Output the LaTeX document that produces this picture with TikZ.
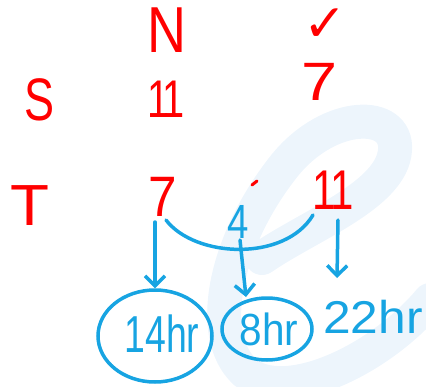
\documentclass[tikz,border=0pt]{standalone}
\usepackage{fontspec}
\usepackage{graphicx}
\setmainfont{Liberation Sans}
\newfontfamily\symfont{DejaVu Sans}
\usetikzlibrary{arrows.meta,shapes.geometric}
\definecolor{ink}{HTML}{FF0000}
\definecolor{pen}{HTML}{17A4E2}
\definecolor{wm}{HTML}{EDF5FC}
\newcommand{\handtxt}[3]{\scalebox{#1}[1]{\fontsize{#2}{#2}\selectfont #3}}
\tikzset{
  redtxt/.style={text=ink, inner sep=0pt},
  bluetxt/.style={text=pen, inner sep=0pt},
  bluearrow/.style={draw=pen, line width=3.5pt, line cap=round, -{Straight Barb[length=10pt,width=20pt,line width=3.5pt]}},
  bluering/.style={draw=pen, line width=3.5pt, ellipse, inner sep=0pt},
}
\begin{document}
\begin{tikzpicture}[x=1pt,y=-1pt]
\useasboundingbox (0,0) rectangle (426,386);
% faint watermark
\draw[wm, line width=34pt, line cap=round]
  (262,258) .. controls (310,225) and (392,195) .. (395,150)
  .. controls (398,110) and (330,110) .. (285,165)
  .. controls (225,240) and (205,335) .. (245,372)
  .. controls (285,405) and (380,360) .. (430,300);
% red table
\node[redtxt] (N) at (167,30) {\handtxt{0.83}{65}{N}};
\node[text=ink, font=\symfont, inner sep=0pt] (ck) at (325,25) {\handtxt{1}{52}{✓}};
\node[redtxt] (S) at (40,100) {\handtxt{0.75}{60}{S}};
\node[redtxt] (sn) at (166,99) {\handtxt{0.75}{53}{1\kern-0.16em1}};
\node[redtxt] (sc) at (320,82) {\handtxt{1.2}{54}{7}};
\node[redtxt] (T) at (30,206) {\handtxt{1.1}{58}{T}};
\node[redtxt] (tn) at (163,197) {\handtxt{0.9}{57}{7}};
\node[redtxt] (tc) at (333,190) {\handtxt{0.75}{56}{1\kern-0.14em1}};
\draw[ink, line width=3pt, line cap=round] (252,185) -- (257,181);
% blue
\node[bluetxt] (four) at (238,222) {\handtxt{0.8}{48}{4}};
\coordinate (a1) at (166,220);
\coordinate (a2) at (313,215);
\draw[pen, line width=3.5pt, line cap=round] (a1) .. controls (195,258) and (285,262) .. (a2);
\node[bluering, minimum width=114pt, minimum height=92pt] (e14) at (155,336) {};
\node[bluetxt] (h14) at (162,334) {\handtxt{0.72}{52}{14hr}};
\node[bluering, minimum width=90pt, minimum height=62pt] (e8) at (267,329) {};
\node[bluetxt] (h8) at (269,329) {\handtxt{0.9}{45}{8hr}};
\node[bluetxt] (h22) at (373,317) {\handtxt{1.08}{46}{22hr}};
\coordinate (s1) at (155,222);
\coordinate (s2) at (240,240);
\coordinate (t2) at (246,297);
\coordinate (s3) at (338,220);
\coordinate (t3) at (337,278);
\draw[bluearrow] (s1) -- (e14.north);
\draw[bluearrow] (s2) -- (t2);
\draw[bluearrow] (s3) -- (t3);
\end{tikzpicture}
\end{document}
